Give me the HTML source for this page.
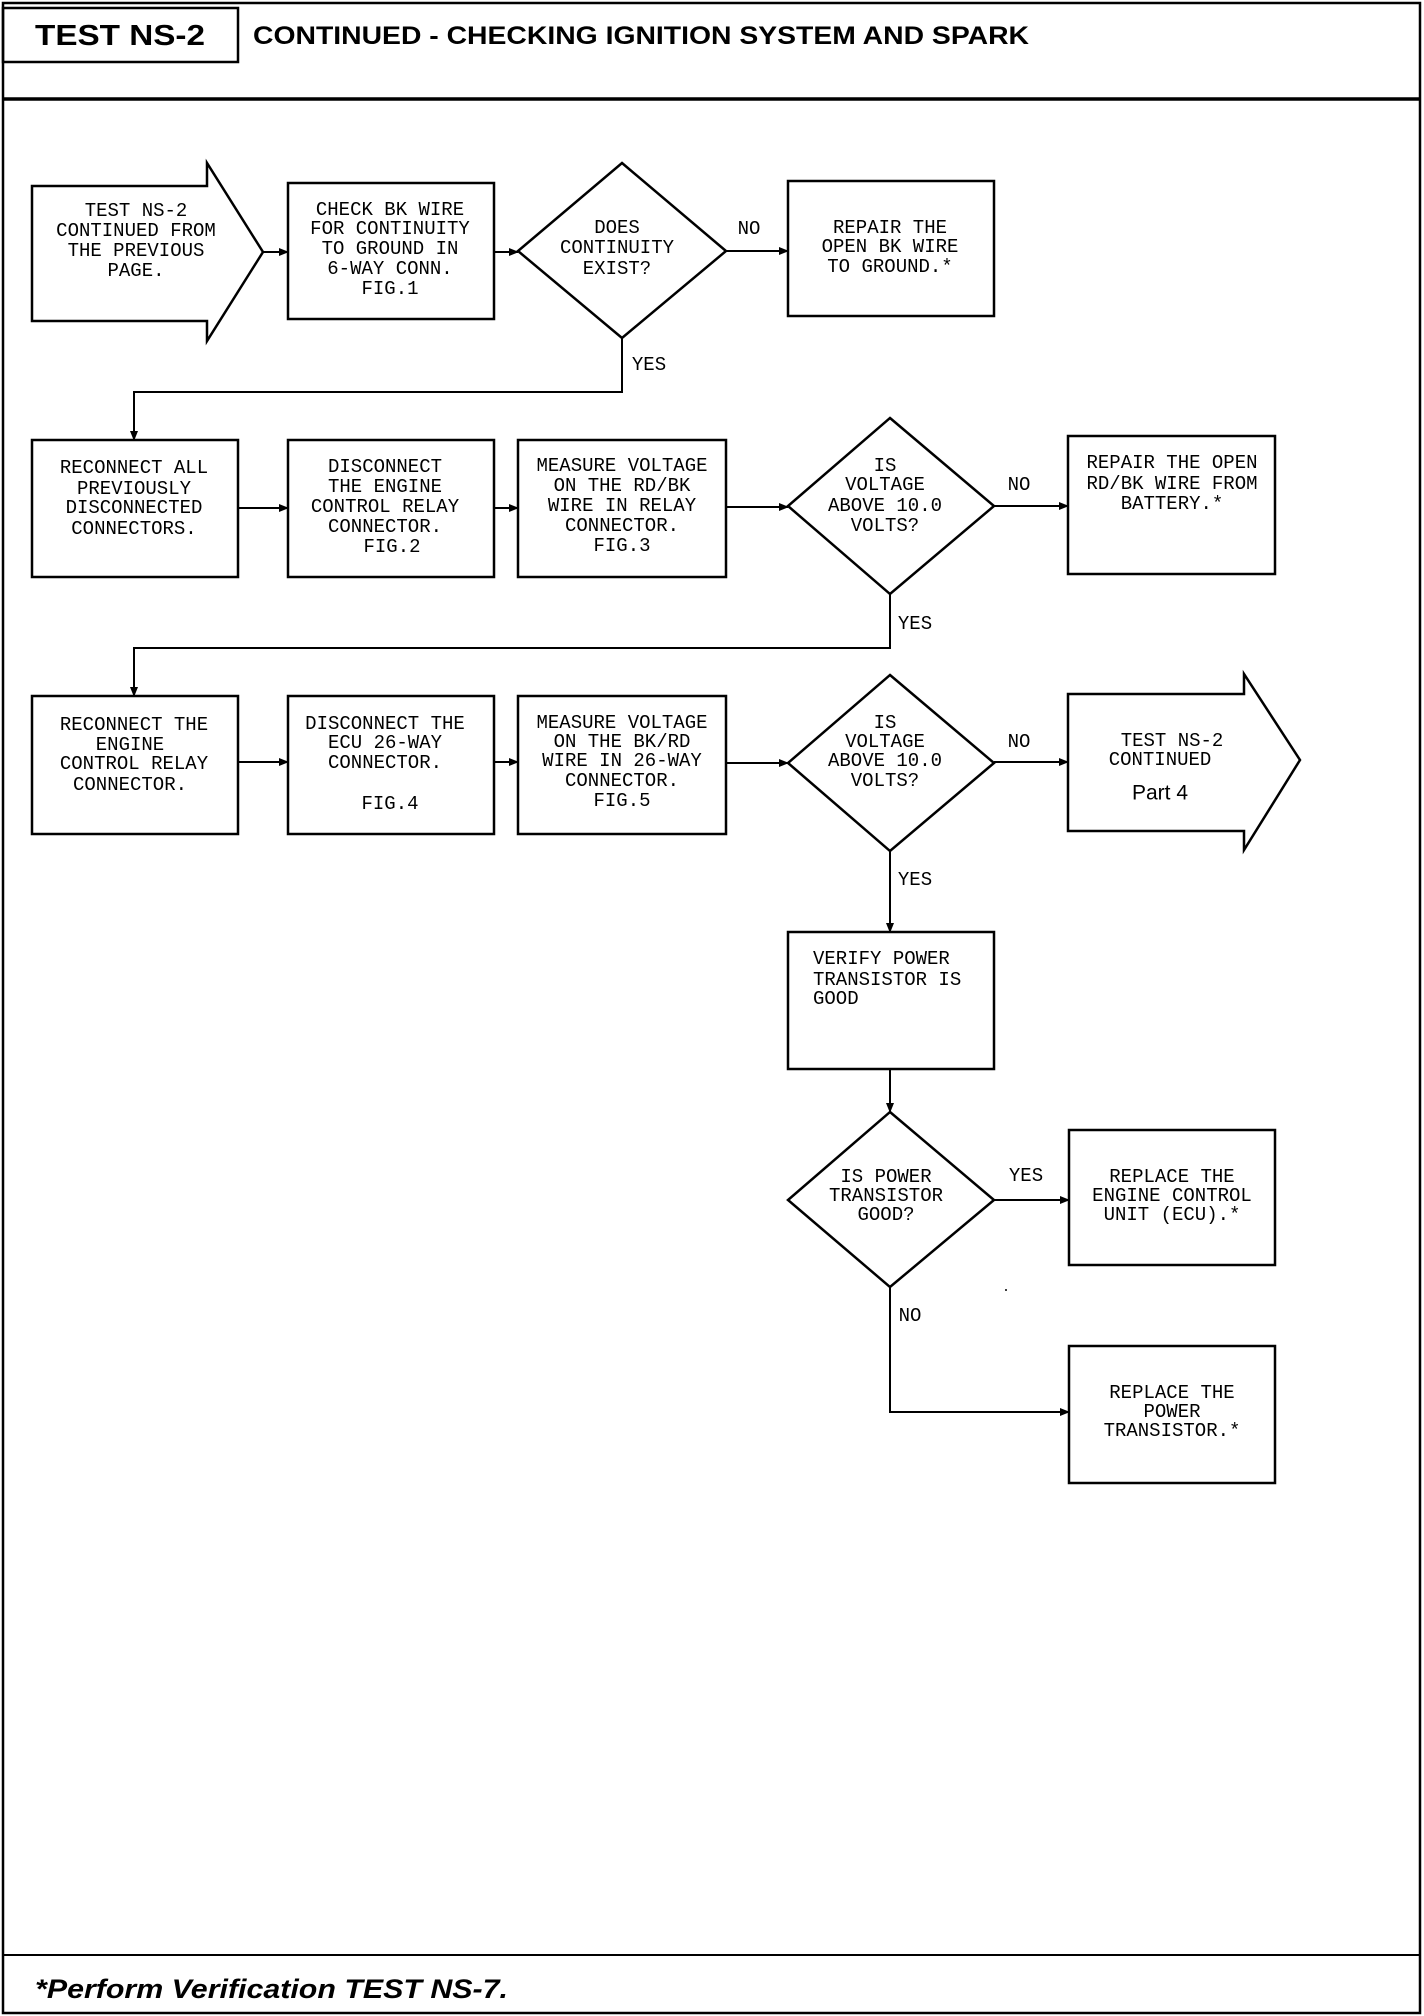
<!DOCTYPE html>
<html><head><meta charset="utf-8"><style>
html,body{margin:0;padding:0;background:#fff;}
svg{display:block;}
.t{font-family:"Liberation Mono",monospace;font-size:19px;fill:#000;text-anchor:middle;dominant-baseline:central;}
.l{text-anchor:start;}
</style></head><body>
<svg width="1424" height="2016" viewBox="0 0 1424 2016" xmlns="http://www.w3.org/2000/svg">
<defs><marker id="a" markerWidth="10" markerHeight="10" refX="9" refY="5" orient="auto" markerUnits="userSpaceOnUse"><path d="M0,1 L10,5 L0,9 z" fill="#000"/></marker></defs>
<g fill="none" stroke="#000" stroke-width="2.5">
<rect x="3" y="3" width="1417" height="2010"/>
<rect x="3" y="8" width="235" height="54"/>
<line x1="3" y1="99" x2="1420" y2="99" stroke-width="3.5"/>
<line x1="3" y1="1955" x2="1420" y2="1955" stroke-width="2"/>
<path d="M32,186 L207,186 L207,163 L263,252 L207,341 L207,321 L32,321 Z"/>
<rect x="288" y="183" width="206" height="136"/>
<path d="M622,163 L726,251 L622,338 L518,251 Z"/>
<rect x="788" y="181" width="206" height="135"/>
<rect x="32" y="440" width="206" height="137"/>
<rect x="288" y="440" width="206" height="137"/>
<rect x="518" y="440" width="208" height="137"/>
<path d="M890,418 L994,506 L890,594 L788,506 Z"/>
<rect x="1068" y="436" width="207" height="138"/>
<rect x="32" y="696" width="206" height="138"/>
<rect x="288" y="696" width="206" height="138"/>
<rect x="518" y="696" width="208" height="138"/>
<path d="M890,675 L994,763 L890,851 L788,763 Z"/>
<path d="M1068,694 L1244,694 L1244,674 L1300,760 L1244,850 L1244,831 L1068,831 Z"/>
<rect x="788" y="932" width="206" height="137"/>
<path d="M890,1112 L994,1200 L890,1287 L788,1200 Z"/>
<rect x="1069" y="1130" width="206" height="135"/>
<rect x="1069" y="1346" width="206" height="137"/>
</g>
<g fill="none" stroke="#000" stroke-width="2">
<line x1="263" y1="252" x2="288" y2="252" marker-end="url(#a)"/>
<line x1="494" y1="252" x2="518" y2="252" marker-end="url(#a)"/>
<line x1="726" y1="251" x2="788" y2="251" marker-end="url(#a)"/>
<polyline points="622,338 622,392 134,392 134,440" marker-end="url(#a)"/>
<line x1="238" y1="508" x2="288" y2="508" marker-end="url(#a)"/>
<line x1="494" y1="508" x2="518" y2="508" marker-end="url(#a)"/>
<line x1="726" y1="507" x2="788" y2="507" marker-end="url(#a)"/>
<line x1="994" y1="506" x2="1068" y2="506" marker-end="url(#a)"/>
<polyline points="890,594 890,648 134,648 134,696" marker-end="url(#a)"/>
<line x1="238" y1="762" x2="288" y2="762" marker-end="url(#a)"/>
<line x1="494" y1="762" x2="518" y2="762" marker-end="url(#a)"/>
<line x1="726" y1="763" x2="788" y2="763" marker-end="url(#a)"/>
<line x1="994" y1="762" x2="1068" y2="762" marker-end="url(#a)"/>
<line x1="890" y1="851" x2="890" y2="932" marker-end="url(#a)"/>
<line x1="890" y1="1069" x2="890" y2="1112" marker-end="url(#a)"/>
<line x1="994" y1="1200" x2="1069" y2="1200" marker-end="url(#a)"/>
<polyline points="890,1287 890,1412 1069,1412" marker-end="url(#a)"/>
</g>
<circle cx="1006" cy="1290" r="1" fill="#000"/>
<text x="35" y="36" font-family="Liberation Sans,sans-serif" font-weight="bold" font-size="29" textLength="170" lengthAdjust="spacingAndGlyphs" dominant-baseline="central">TEST NS-2</text>
<text x="253" y="36" font-family="Liberation Sans,sans-serif" font-weight="bold" font-size="25" textLength="776" lengthAdjust="spacingAndGlyphs" dominant-baseline="central">CONTINUED - CHECKING IGNITION SYSTEM AND SPARK</text>
<text x="35" y="1989" font-family="Liberation Sans,sans-serif" font-weight="bold" font-style="italic" font-size="27" textLength="473" lengthAdjust="spacingAndGlyphs" dominant-baseline="central">*Perform Verification TEST NS-7.</text>
<g class="t">
<text x="136" y="211">TEST NS-2</text><text x="136" y="231">CONTINUED FROM</text><text x="136" y="251">THE PREVIOUS</text><text x="136" y="271">PAGE.</text>
<text x="390" y="210">CHECK BK WIRE</text><text x="390" y="229">FOR CONTINUITY</text><text x="390" y="249">TO GROUND IN</text><text x="390" y="269">6-WAY CONN.</text><text x="390" y="289">FIG.1</text>
<text x="617" y="228">DOES</text><text x="617" y="248">CONTINUITY</text><text x="617" y="269">EXIST?</text>
<text x="749" y="229">NO</text>
<text x="890" y="228">REPAIR THE</text><text x="890" y="247">OPEN BK WIRE</text><text x="890" y="267">TO GROUND.*</text>
<text x="649" y="365">YES</text>
<text x="134" y="468">RECONNECT ALL</text><text x="134" y="489">PREVIOUSLY</text><text x="134" y="508">DISCONNECTED</text><text x="134" y="529">CONNECTORS.</text>
<text x="385" y="467">DISCONNECT</text><text x="385" y="487">THE ENGINE</text><text x="385" y="507">CONTROL RELAY</text><text x="385" y="527">CONNECTOR.</text><text x="392" y="547">FIG.2</text>
<text x="622" y="466">MEASURE VOLTAGE</text><text x="622" y="486">ON THE RD/BK</text><text x="622" y="506">WIRE IN RELAY</text><text x="622" y="526">CONNECTOR.</text><text x="622" y="546">FIG.3</text>
<text x="885" y="466">IS</text><text x="885" y="485">VOLTAGE</text><text x="885" y="506">ABOVE 10.0</text><text x="885" y="526">VOLTS?</text>
<text x="1019" y="485">NO</text>
<text x="1172" y="463">REPAIR THE OPEN</text><text x="1172" y="484">RD/BK WIRE FROM</text><text x="1172" y="504">BATTERY.*</text>
<text x="915" y="624">YES</text>
<text x="134" y="725">RECONNECT THE</text><text x="130" y="745">ENGINE</text><text x="134" y="764">CONTROL RELAY</text><text x="130" y="785">CONNECTOR.</text>
<text x="385" y="724">DISCONNECT THE</text><text x="385" y="743">ECU 26-WAY</text><text x="385" y="763">CONNECTOR.</text><text x="390" y="804">FIG.4</text>
<text x="622" y="723">MEASURE VOLTAGE</text><text x="622" y="742">ON THE BK/RD</text><text x="622" y="761">WIRE IN 26-WAY</text><text x="622" y="781">CONNECTOR.</text><text x="622" y="801">FIG.5</text>
<text x="885" y="723">IS</text><text x="885" y="742">VOLTAGE</text><text x="885" y="761">ABOVE 10.0</text><text x="885" y="781">VOLTS?</text>
<text x="1019" y="742">NO</text>
<text x="1172" y="741">TEST NS-2</text><text x="1160" y="760">CONTINUED</text>
<text x="915" y="880">YES</text>
<text class="t l" x="813" y="959">VERIFY POWER</text><text class="t l" x="813" y="980">TRANSISTOR IS</text><text class="t l" x="813" y="999">GOOD</text>
<text x="886" y="1177">IS POWER</text><text x="886" y="1196">TRANSISTOR</text><text x="886" y="1215">GOOD?</text>
<text x="1026" y="1176">YES</text>
<text x="1172" y="1177">REPLACE THE</text><text x="1172" y="1196">ENGINE CONTROL</text><text x="1172" y="1215">UNIT (ECU).*</text>
<text x="910" y="1316">NO</text>
<text x="1172" y="1393">REPLACE THE</text><text x="1172" y="1412">POWER</text><text x="1172" y="1431">TRANSISTOR.*</text>
</g>
<text x="1160" y="793" font-family="Liberation Sans,sans-serif" font-size="21" text-anchor="middle" dominant-baseline="central">Part 4</text>
</svg>
</body></html>
